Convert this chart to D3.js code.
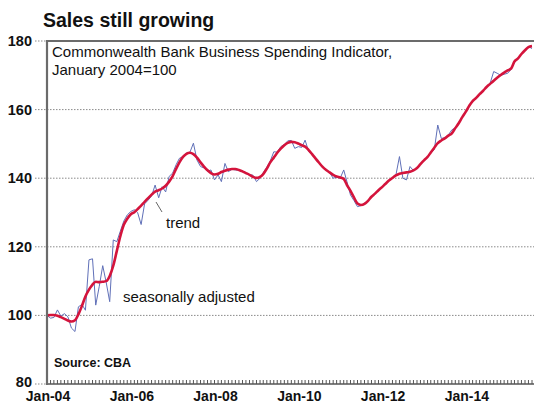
<!DOCTYPE html>
<html><head><meta charset="utf-8">
<script src="https://cdn.jsdelivr.net/npm/d3@7"></script>
<style>
html,body{margin:0;padding:0;background:#fff;}
svg{display:block;font-family:"Liberation Sans",Arial,sans-serif;}
</style></head>
<body>
<svg id="chart" width="534" height="403"></svg>
<script>
// ---- data (monthly, Jan-2004 onwards) ----
const startYear = 2004;
const trendValues = [
100.0,100.1,100.1,99.9,99.5,99.0,98.5,98.2,98.6,100.3,102.8,105.5,
107.5,109.0,109.8,109.7,109.8,110.0,111.5,114.5,118.8,123.0,126.4,128.2,
129.5,130.1,131.0,132.0,133.1,134.2,135.2,136.1,136.5,137.0,137.8,139.0,
140.6,142.8,144.6,146.2,147.1,147.4,147.0,146.0,144.6,143.4,142.3,141.5,
141.1,141.3,141.8,142.2,142.5,142.7,142.7,142.4,142.0,141.5,141.0,140.4,
140.1,140.4,141.2,142.8,144.6,146.0,147.4,148.6,149.6,150.3,150.6,150.5,
150.1,149.6,149.2,148.2,147.0,145.7,144.5,143.3,142.4,141.7,141.0,140.5,
140.2,139.8,138.0,136.3,134.4,132.6,132.2,132.5,133.4,134.6,135.5,136.5,
137.4,138.4,139.3,140.1,140.8,141.3,141.5,141.7,141.9,142.3,143.0,144.1,
145.2,146.2,147.5,148.9,150.2,151.0,151.6,152.4,153.1,154.6,156.1,157.8,
159.4,161.2,162.5,163.4,164.5,165.5,166.6,167.5,168.4,169.3,170.1,170.8,
171.4,172.0,174.0,174.9,176.2,177.3,178.2,178.5
];
const saValues = [
100.0,99.2,99.4,101.6,99.8,100.5,99.6,96.3,95.3,102.5,103.2,101.5,
116.2,116.5,103.0,108.5,114.5,109.5,104.0,122.0,121.5,124.5,127.5,129.3,
130.3,130.8,130.0,126.5,132.5,133.6,134.8,138.0,134.3,137.5,136.0,140.5,
141.5,144.0,145.8,146.3,147.3,147.6,150.2,145.3,143.4,143.0,142.0,142.4,
139.5,141.0,139.0,144.3,141.9,142.6,142.4,142.3,142.1,141.4,141.0,140.9,
139.0,140.0,141.6,143.2,145.0,147.7,147.6,149.2,149.8,150.9,151.0,148.7,
149.2,149.0,151.1,147.8,147.0,145.6,144.5,143.3,142.3,141.6,140.0,140.3,
140.0,142.4,139.0,135.1,133.5,131.7,132.0,132.7,133.5,134.5,135.6,136.4,
137.4,138.5,139.3,140.0,140.9,146.3,140.0,139.5,143.4,142.2,143.0,144.1,
145.2,146.3,147.4,148.3,155.5,151.6,151.8,152.6,154.1,154.7,156.0,157.9,
159.5,161.1,162.6,163.3,164.6,165.6,166.5,167.7,171.1,170.6,170.0,170.3,
170.6,171.8,173.8,175.0,176.2,177.2,178.4,177.8
];
const yTicks = [80,100,120,140,160,180];
const xTickYears = [2004,2006,2008,2010,2012,2014];
const title = "Sales still growing";
const subtitle = ["Commonwealth Bank Business Spending Indicator,","January 2004=100"];
const source = "Source: CBA";

// ---- layout ----
const svg = d3.select("#chart");
const padL = 47, padR = 532, padT = 41, padB = 384;
const dates = trendValues.map((_, i) => new Date(startYear, i, 1));
const x = d3.scaleTime().domain([dates[0], dates[dates.length-1]]).range([padL, padR]);
const y = d3.scaleLinear().domain([80,180]).range([padB, padT]);

// title
svg.append("text").attr("x", 43).attr("y", 27).attr("font-size", 19.5).attr("font-weight","bold")
  .attr("fill","#111").text(title);

// grid lines (dotted) incl. extension to the left of axis
svg.append("g").selectAll("line").data(yTicks).join("line")
  .attr("x1", 35).attr("x2", d => (d===80||d===180) ? padL : 534)
  .attr("y1", d => y(d)).attr("y2", d => y(d))
  .attr("stroke", "#8a8a8a").attr("stroke-width", 1).attr("stroke-dasharray", "1.5,1.5");

// y tick labels
svg.append("g").selectAll("text").data(yTicks).join("text")
  .attr("x", 32).attr("y", d => y(d) + (d === 80 ? 3 : 5)).attr("text-anchor","end")
  .attr("font-size", 14.5).attr("font-weight","bold").attr("fill","#111").text(d => d);

// top frame line
svg.append("line").attr("x1", padL).attr("x2", 534).attr("y1", padT).attr("y2", padT)
  .attr("stroke", "#6b6b6b").attr("stroke-width", 2);

// lines
const line = d3.line().x((d,i) => x(dates[i])).y(d => y(d));
svg.append("path").datum(saValues).attr("d", line).attr("fill","none")
  .attr("stroke","#6070b8").attr("stroke-width", 1);
svg.append("path").datum(trendValues).attr("d", line.curve(d3.curveMonotoneX)).attr("fill","none")
  .attr("stroke","#d4143c").attr("stroke-width", 2.6).attr("stroke-linejoin","round");

// bottom axis with monthly minor ticks
const months = d3.timeMonth.range(new Date(startYear,0,1), new Date(2015,9,1));
svg.append("g").selectAll("line").data(months).join("line")
  .attr("x1", d => x(d)).attr("x2", d => x(d)).attr("y1", padB).attr("y2", padB - 4)
  .attr("stroke", "#555").attr("stroke-width", 1);
svg.append("line").attr("x1", padL).attr("x2", 534).attr("y1", padB).attr("y2", padB)
  .attr("stroke", "#555").attr("stroke-width", 1.5);

// left axis line
svg.append("line").attr("x1", padL).attr("x2", padL).attr("y1", padT - 1).attr("y2", padB + 1)
  .attr("stroke", "#6b6b6b").attr("stroke-width", 2.2);

// x tick labels
const fmt = d3.timeFormat("%b-%y");
svg.append("g").selectAll("text").data(xTickYears.map(yr => new Date(yr,0,1))).join("text")
  .attr("x", d => x(d) + 1).attr("y", 401).attr("text-anchor","middle")
  .attr("font-size", 14).attr("font-weight","bold").attr("fill","#111").text(d => fmt(d));

// subtitle
svg.append("g").selectAll("text").data(subtitle).join("text")
  .attr("x", 52).attr("y", (d,i) => 57 + i*18).attr("font-size", 15).attr("fill","#111").text(d => d);

// annotations
svg.append("text").attr("x", 166).attr("y", 228).attr("font-size", 15).attr("fill","#111").text("trend");
svg.append("line").attr("x1", 156).attr("y1", 202).attr("x2", 162).attr("y2", 212)
  .attr("stroke","#666").attr("stroke-width",1);
svg.append("text").attr("x", 123).attr("y", 302).attr("font-size", 15).attr("fill","#111").text("seasonally adjusted");
svg.append("text").attr("x", 54).attr("y", 367).attr("font-size", 12.5).attr("font-weight","bold")
  .attr("fill","#111").text(source);
</script>
</body></html>
